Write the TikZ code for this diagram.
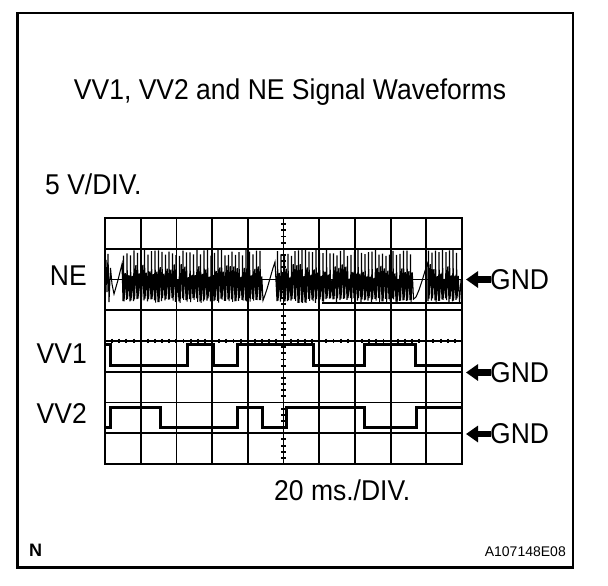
\documentclass[tikz,border=0pt]{standalone}
\usepackage{fontspec}
\setmainfont{Liberation Sans}
\usetikzlibrary{arrows.meta}
\begin{document}
\begin{tikzpicture}[x=1pt,y=-1pt,
  frameline/.style={line width=2.1pt},
  gridline/.style={line width=1.8pt},
  axisline/.style={line width=1.1pt},
  tickline/.style={line width=1.9pt},
  sig/.style={line width=3pt, line join=miter},
  nesig/.style={line width=1.05pt, line join=miter},
  lbl/.style={inner sep=0pt, font=\fontsize{26.5}{30}\selectfont},
  gndarrow/.style={line width=6.5pt, -{Triangle[length=12pt,width=16pt]}},
]
\useasboundingbox (0,0) rectangle (608,586);
% outer frame
\draw[frameline] (17.5,13) rectangle (573,567.5);

% grid
\foreach \i in {1,2,3,4,6,7,8,9}
  \draw[gridline] ({105+35.7*\i},218) -- ({105+35.7*\i},464);
\foreach \j in {1,3,5,6,7}
  \draw[gridline] (105,{218+30.75*\j}) -- (462,{218+30.75*\j});
\draw[axisline] (105,279.5) -- (462,279.5);
\draw[axisline] (105,341) -- (462,341);
\draw[axisline] (283.5,218) -- (283.5,464);
% ticks on centre axes
\foreach \k in {1,...,49}
  \draw[tickline] ({105+7.14*\k},338.6) -- ({105+7.14*\k},343.4);
\foreach \k in {1,...,39}
  \draw[tickline] (281.1,{218+6.15*\k}) -- (285.9,{218+6.15*\k});
\draw[line width=2.6pt] (105,218) rectangle (462,464);

% NE waveform
\pgfmathsetseed{11}
\draw[nesig] (105,272) -- (106,260) -- (107,292) -- (108,254) -- (109,302) -- (110.5,268)
  -- (112,284) -- (114,294) -- (116,287) -- (118,280) -- (120,272) -- (122,264) -- (123,301)
  foreach \k in {0,...,39} {
    -- ({123+3.5*\k+0.5},{249+7*rnd}) -- ({123+3.5*\k+1.1},{298+5*rnd})
    -- ({123+3.5*\k+2.3},{264+16*rnd}) -- ({123+3.5*\k+3.5},{298+5*rnd}) }
  -- (265,295) -- (267,289) -- (269,282) -- (271,275) -- (273,268) -- (275,262) -- (277,301)
  foreach \k in {0,...,38} {
    -- ({277+3.5*\k+0.5},{249+7*rnd}) -- ({277+3.5*\k+1.1},{298+5*rnd})
    -- ({277+3.5*\k+2.3},{264+16*rnd}) -- ({277+3.5*\k+3.5},{298+5*rnd}) }
  -- (416,297) -- (419,290) -- (422,281) -- (425,271) -- (428,262) -- (428,301)
  foreach \k in {0,...,8} {
    -- ({428+3.5*\k+0.5},{249+7*rnd}) -- ({428+3.5*\k+1.1},{298+5*rnd})
    -- ({428+3.5*\k+2.3},{264+16*rnd}) -- ({428+3.5*\k+3.5},{298+5*rnd}) }
  -- (461,280);
\draw[line width=2.4pt] (321,248.75) -- (462,248.75);
\draw[line width=2.4pt] (322,303) -- (462,303);

% VV1 waveform
\draw[sig] (106,344) -- (110,344) -- (110,365) -- (187,365) -- (187,344) -- (213,344)
  -- (213,365) -- (237,365) -- (237,344) -- (313,344) -- (313,365) -- (364,365)
  -- (364,344) -- (415,344) -- (415,365) -- (461,365);
% VV2 waveform
\draw[sig] (106,427) -- (110,427) -- (110,407) -- (160,407) -- (160,427) -- (237,427)
  -- (237,407) -- (262,407) -- (262,427) -- (286,427) -- (286,407) -- (364,407)
  -- (364,427) -- (416,427) -- (416,407) -- (461,407);

% labels
\node[lbl, anchor=base] (title) at (290,99.5) {\scalebox{1}[1.08]{VV1, VV2 and NE Signal Waveforms}};
\node[lbl, anchor=base west] (vdiv) at (45,194) {\scalebox{1}[1.08]{5 V/DIV.}};
\node[lbl, anchor=base east] (ne) at (87,285) {\scalebox{1}[1.08]{NE}};
\node[lbl, anchor=base east] (vv1) at (87,363.5) {\scalebox{1}[1.08]{VV1}};
\node[lbl, anchor=base east] (vv2) at (87,423.5) {\scalebox{1}[1.08]{VV2}};
\node[lbl, anchor=base west] (tdiv) at (274,500) {\scalebox{1}[1.08]{20 ms./DIV.}};

% GND markers
\foreach \nm/\gy in {gne/279.5, gvv1/372.5, gvv2/434} {
  \coordinate (\nm t) at (466,\gy);
  \coordinate (\nm s) at (491,\gy);
  \draw[gndarrow] (\nm s) -- (\nm t);
  \node[lbl, anchor=west] (\nm) at (490,\gy) {\scalebox{1}[1.08]{GND}};
}

\node[inner sep=0pt, anchor=base west, font=\fontsize{18}{20}\selectfont\bfseries] (n) at (29,556) {N};
\node[inner sep=0pt, anchor=base east, font=\fontsize{14}{16}\selectfont] (code) at (566,556) {A107148E08};
\end{tikzpicture}
\end{document}
